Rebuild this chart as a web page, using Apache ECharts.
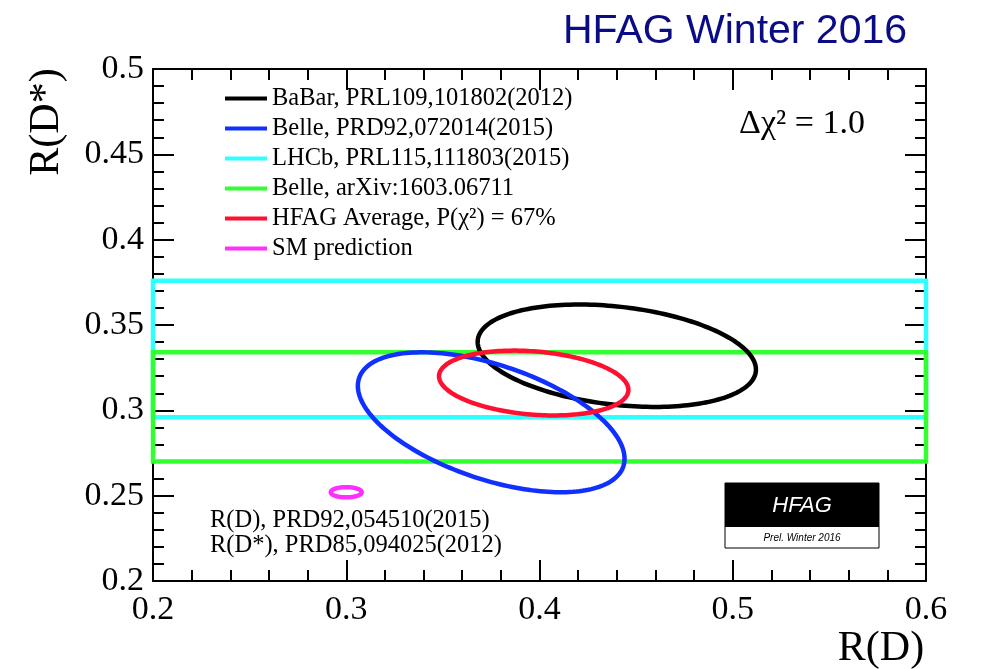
<!DOCTYPE html>
<html><head><meta charset="utf-8">
<script src="https://cdn.jsdelivr.net/npm/echarts@6/dist/echarts.min.js"></script>
<style>html,body{margin:0;padding:0;background:#fff}#c{width:982px;height:669px}</style>
</head><body><div id="c"></div>
<script>
// Axis ticks
const xTicks = [0.2, 0.3, 0.4, 0.5, 0.6];
const yTicks = [0.2, 0.25, 0.3, 0.35, 0.4, 0.45, 0.5];

// Delta chi^2 = 1 ellipses: R(D), sigma R(D), R(D*), sigma R(D*), correlation
const ellipseNames = ['BaBar, PRL109,101802(2012)', 'Belle, PRD92,072014(2015)', 'HFAG Average, P(\u03c7\u00b2) = 67%', 'SM prediction'];
const ellipseRD = [0.440, 0.375, 0.397, 0.300];
const ellipseRDErr = [0.072, 0.069, 0.049, 0.008];
const ellipseRDs = [0.332, 0.293, 0.316, 0.252];
const ellipseRDsErr = [0.030, 0.041, 0.019, 0.003];
const ellipseRho = [-0.27, -0.52, -0.21, 0.0];
const ellipseColors = ['#000000', '#1030ff', '#ff1030', '#ff30ff'];

// R(D*)-only measurements (horizontal bands)
const bandNames = ['LHCb, PRL115,111803(2015)', 'Belle, arXiv:1603.06711'];
const bandRDs = [0.336, 0.302];
const bandRDsErr = [0.040, 0.032];
const bandColors = ['#30ffff', '#30ff30'];

const legendOrder = [ellipseNames[0], ellipseNames[1], bandNames[0], bandNames[1], ellipseNames[2], ellipseNames[3]];

const SERIF = '"Liberation Serif", "DejaVu Serif", serif';
const SANS = '"Liberation Sans", Arial, sans-serif';

function ellipseItem(params, api) {
  const mx = api.value(0), sx = api.value(1), my = api.value(2), sy = api.value(3), r = api.value(4);
  const pts = [];
  const n = 200;
  const q = Math.sqrt(1 - r * r);
  for (let i = 0; i < n; i++) {
    const t = 2 * Math.PI * i / n;
    pts.push(api.coord([mx + sx * Math.cos(t), my + sy * (r * Math.cos(t) + q * Math.sin(t))]));
  }
  return { type: 'polygon', shape: { points: pts }, style: { fill: 'none', stroke: api.visual('color'), lineWidth: 4.5 } };
}
function bandItem(params, api) {
  const c = api.value(0), e = api.value(1);
  const p1 = api.coord([xTicks[0], c + e]);
  const p2 = api.coord([xTicks[xTicks.length - 1], c - e]);
  return { type: 'rect', shape: { x: p1[0], y: p1[1], width: p2[0] - p1[0], height: p2[1] - p1[1] },
           style: { fill: 'none', stroke: api.visual('color'), lineWidth: 4.5 } };
}

const series = [];
bandNames.forEach((n, i) => {
  series.push({ name: n, type: 'custom', renderItem: bandItem, coordinateSystem: 'cartesian2d',
    itemStyle: { color: bandColors[i] }, dimensions: ['rds', 'err'], encode: { y: 0 },
    data: [[bandRDs[i], bandRDsErr[i]]], silent: true, z: 3 });
});
ellipseNames.forEach((n, i) => {
  series.push({ name: n, type: 'custom', renderItem: ellipseItem, coordinateSystem: 'cartesian2d',
    itemStyle: { color: ellipseColors[i] }, encode: { x: 0, y: 2 },
    data: [[ellipseRD[i], ellipseRDErr[i], ellipseRDs[i], ellipseRDsErr[i], ellipseRho[i]]], silent: true, z: 4 });
});

const axisCommon = {
  type: 'value',
  axisLine: { show: true, lineStyle: { color: '#000', width: 2 } },
  axisTick: { show: true, inside: true, length: 21, lineStyle: { color: '#000', width: 2 } },
  minorTick: { show: true, splitNumber: 5, length: 11, lineStyle: { color: '#000', width: 2 } },
  splitLine: { show: false },
  minorSplitLine: { show: false }
};

const chart = echarts.init(document.getElementById('c'), null, { renderer: 'canvas' });
chart.setOption({
  animation: false,
  backgroundColor: '#fff',
  grid: { left: 153, right: 56, top: 69, bottom: 88, containLabel: false },
  xAxis: [
    Object.assign({}, axisCommon, { position: 'bottom', min: xTicks[0], max: xTicks[xTicks.length - 1], interval: 0.1,
      axisLabel: { show: true, margin: 12, fontFamily: SERIF, fontSize: 34, color: '#000' } }),
    Object.assign({}, axisCommon, { position: 'top', min: xTicks[0], max: xTicks[xTicks.length - 1], interval: 0.1,
      axisLabel: { show: false } })
  ],
  yAxis: [
    Object.assign({}, axisCommon, { position: 'left', min: yTicks[0], max: yTicks[yTicks.length - 1], interval: 0.05,
      axisLabel: { show: true, margin: 9, fontFamily: SERIF, fontSize: 34, color: '#000' } }),
    Object.assign({}, axisCommon, { position: 'right', min: yTicks[0], max: yTicks[yTicks.length - 1], interval: 0.05,
      axisLabel: { show: false } })
  ],
  legend: {
    orient: 'vertical', left: 220, top: 81, itemGap: 5, itemWidth: 42, itemHeight: 4, icon: 'rect',
    selectedMode: false, data: legendOrder,
    textStyle: { fontFamily: SERIF, fontSize: 24.5, color: '#000', lineHeight: 24 }
  },
  series: series,
  graphic: [
    { type: 'text', x: 563, y: 32, style: { text: 'HFAG Winter 2016', fontFamily: SANS, fontSize: 41, fill: '#0b0b85', textAlign: 'left', textVerticalAlign: 'middle', align: 'left', verticalAlign: 'middle' } },
    { type: 'text', x: 802, y: 124, style: { text: '\u0394\u03c7\u00b2 = 1.0', fontFamily: SERIF, fontSize: 34, fill: '#000', textAlign: 'center', textVerticalAlign: 'middle', align: 'center', verticalAlign: 'middle' } },
    { type: 'text', x: 210, y: 521, style: { text: 'R(D), PRD92,054510(2015)', fontFamily: SERIF, fontSize: 24.5, fill: '#000', textAlign: 'left', textVerticalAlign: 'middle', align: 'left', verticalAlign: 'middle' } },
    { type: 'text', x: 210, y: 546, style: { text: 'R(D*), PRD85,094025(2012)', fontFamily: SERIF, fontSize: 24.5, fill: '#000', textAlign: 'left', textVerticalAlign: 'middle', align: 'left', verticalAlign: 'middle' } },
    { type: 'text', x: 47, y: 122, rotation: Math.PI / 2, style: { text: 'R(D*)', fontFamily: SERIF, fontSize: 42, fill: '#000', textAlign: 'center', textVerticalAlign: 'middle', align: 'center', verticalAlign: 'middle' } },
    { type: 'text', x: 881, y: 649, style: { text: 'R(D)', fontFamily: SERIF, fontSize: 42, fill: '#000', textAlign: 'center', textVerticalAlign: 'middle', align: 'center', verticalAlign: 'middle' } },
    { type: 'rect', shape: { x: 725, y: 483, width: 154, height: 65 }, style: { fill: '#fff', stroke: '#000', lineWidth: 1 }, z: 10 },
    { type: 'rect', shape: { x: 725, y: 483, width: 154, height: 44 }, style: { fill: '#000' }, z: 11 },
    { type: 'text', x: 802, y: 506, z: 12, style: { text: 'HFAG', fontFamily: SANS, fontStyle: 'italic', fontSize: 22, fill: '#fff', textAlign: 'center', textVerticalAlign: 'middle', align: 'center', verticalAlign: 'middle' } },
    { type: 'text', x: 802, y: 538, z: 12, style: { text: 'Prel. Winter 2016', fontFamily: SANS, fontStyle: 'italic', fontSize: 10, fill: '#000', textAlign: 'center', textVerticalAlign: 'middle', align: 'center', verticalAlign: 'middle' } }
  ]
});
</script>
</body></html>
